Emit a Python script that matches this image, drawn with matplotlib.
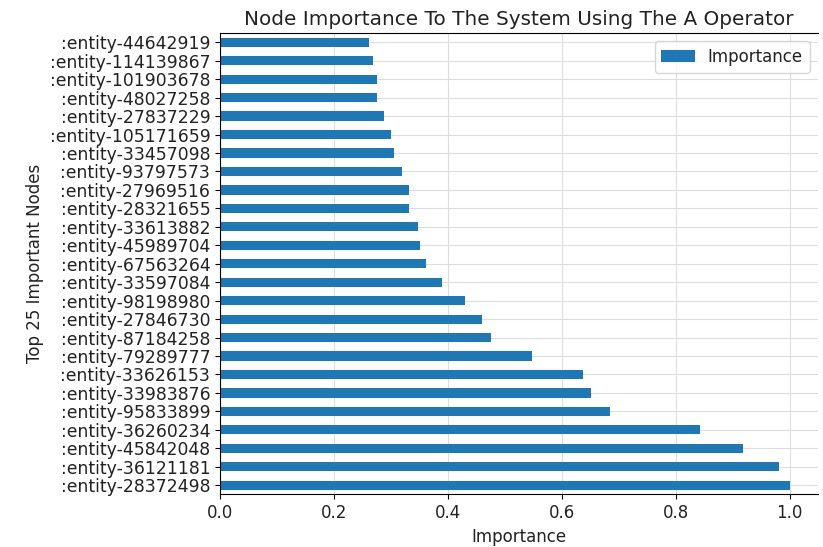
import numpy as np
import matplotlib
matplotlib.use('Agg')
import matplotlib.pyplot as plt

# node labels, bottom to top (as plotted by pandas barh)
nodes = [':entity-28372498', ':entity-36121181', ':entity-45842048', ':entity-36260234',
         ':entity-95833899', ':entity-33983876', ':entity-33626153', ':entity-79289777',
         ':entity-87184258', ':entity-27846730', ':entity-98198980', ':entity-33597084',
         ':entity-67563264', ':entity-45989704', ':entity-33613882', ':entity-28321655',
         ':entity-27969516', ':entity-93797573', ':entity-33457098', ':entity-105171659',
         ':entity-27837229', ':entity-48027258', ':entity-101903678', ':entity-114139867',
         ':entity-44642919']
importance = [1.0, 0.981, 0.919, 0.843, 0.684, 0.652, 0.637, 0.547,
              0.475, 0.460, 0.430, 0.389, 0.361, 0.352, 0.347, 0.332,
              0.332, 0.320, 0.305, 0.301, 0.288, 0.275, 0.275, 0.269,
              0.261]

plt.rcParams['font.size'] = 12
plt.rcParams['text.color'] = '#222222'
plt.rcParams['axes.labelcolor'] = '#222222'
plt.rcParams['xtick.labelcolor'] = '#222222'
plt.rcParams['ytick.labelcolor'] = '#222222'

fig = plt.figure(figsize=(8.23, 5.47), dpi=100)
ax = fig.add_axes([0.2673, 0.096, 0.7266, 0.8437])

pos = np.arange(len(nodes))
ax.barh(pos, importance, height=0.5, color='#1f77b4', label='Importance', zorder=2)
ax.set_yticks(pos)
ax.set_yticklabels(nodes, fontsize=12.4)
ax.set_ylim(-0.5, len(nodes) - 0.5)
ax.set_xlim(0, 1.05)
ax.set_xticks([0.0, 0.2, 0.4, 0.6, 0.8, 1.0])
ax.grid(True, color='#dddddd', linewidth=0.8, zorder=0)
ax.set_axisbelow(True)
ax.spines['right'].set_visible(False)

ax.set_title('Node Importance To The System Using The A Operator')
ax.set_xlabel('Importance')
ax.set_ylabel('Top 25 Important Nodes')
ax.legend(loc='upper right')

fig.savefig('out.png', dpi=100)
